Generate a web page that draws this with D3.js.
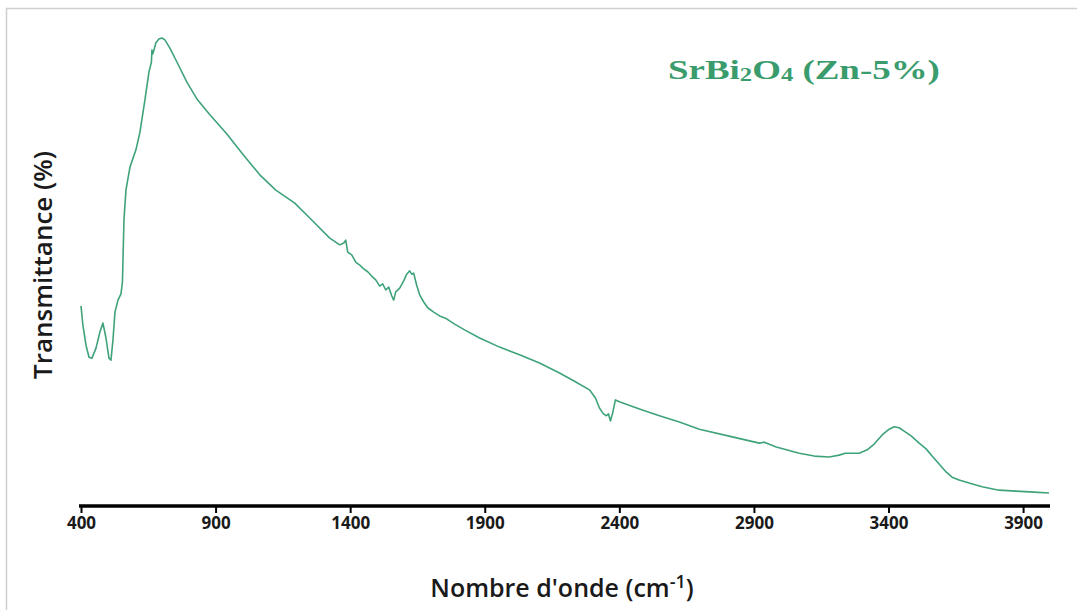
<!DOCTYPE html>
<html>
<head>
<meta charset="utf-8">
<script src="https://cdn.jsdelivr.net/npm/d3@7"></script>
<style>
  html, body { margin: 0; padding: 0; background: #fff; }
  svg { display: block; }
</style>
</head>
<body>
<svg id="chart" width="1077" height="610"></svg>
<script>
// ---- data ----
const wavenumbers = [400, 407, 418.6, 429.7, 440.8, 455.7, 470.5, 481.6, 492.8, 503.9, 511.3, 518.8, 526.2, 537.3, 548.5, 554, 559.6, 567, 581.9, 604.1, 619, 637.5, 652.4, 661.6, 663.5, 667.2, 678.3, 689.5, 700.6, 711.8, 730.3, 756.3, 793.4, 830.5, 878.8, 941.9, 1001.2, 1064.3, 1123.7, 1194.2, 1249.9, 1324.1, 1361.2, 1376.1, 1383.5, 1390.9, 1405.8, 1420.6, 1435.5, 1450.3, 1465.2, 1480, 1494.9, 1509.7, 1520.9, 1532, 1543.2, 1554.3, 1561.7, 1569.2, 1584, 1598.9, 1610, 1621.1, 1628.6, 1636, 1647.1, 1658.3, 1673.1, 1688, 1710.3, 1732.6, 1758.3, 1788, 1825.1, 1880.8, 1955, 2029.3, 2103.5, 2177.7, 2233.4, 2289, 2311.3, 2326.1, 2341, 2352.1, 2359.5, 2367, 2374.4, 2385.5, 2400.4, 2474.6, 2548.8, 2623, 2697.3, 2819.7, 2920, 2938.5, 2983.1, 3068.4, 3124.1, 3179.8, 3216.9, 3239.1, 3291.1, 3320.8, 3346.8, 3376.5, 3402.4, 3421, 3439.5, 3458.1, 3484.1, 3513.8, 3539.7, 3562, 3588, 3614, 3636.2, 3662.2, 3699.3, 3747.6, 3810.7, 3873.8, 3940.6, 3996.3];
const transmittance = [41.7, 37.7, 33.5, 31.0, 30.8, 32.9, 36.3, 38.1, 35.0, 30.8, 30.4, 34.6, 40.4, 42.9, 44.2, 46.7, 59.6, 65.8, 70.6, 74.2, 77.9, 84.6, 90.4, 92.5, 95.0, 94.2, 96.5, 97.3, 97.5, 97.1, 95.4, 92.5, 88.3, 84.8, 81.5, 77.5, 73.3, 69.0, 65.8, 63.1, 60.0, 55.8, 54.4, 54.8, 55.4, 52.9, 52.3, 50.8, 50.2, 49.4, 48.8, 47.9, 47.1, 45.8, 46.3, 45.0, 45.6, 43.8, 42.9, 44.6, 45.4, 46.9, 48.3, 49.0, 48.3, 48.5, 46.0, 44.0, 42.5, 41.3, 40.4, 39.6, 39.0, 37.9, 36.7, 35.0, 33.1, 31.5, 29.8, 27.7, 26.0, 24.2, 22.5, 20.4, 19.2, 18.8, 19.2, 17.7, 19.2, 22.1, 21.7, 20.2, 18.8, 17.5, 16.0, 14.4, 13.1, 13.3, 12.3, 11.0, 10.4, 10.2, 10.6, 11.0, 11.0, 11.7, 12.9, 14.8, 16.0, 16.5, 16.3, 15.6, 14.6, 13.1, 11.9, 10.4, 8.75, 7.1, 6.0, 5.4, 4.8, 4.0, 3.3, 3.1, 2.9, 2.7];
const xTicks = [400, 900, 1400, 1900, 2400, 2900, 3400, 3900];
const xDomain = [400, 4000];
const yDomain = [0, 100];
const xTitle = "Nombre d'onde (cm";
const xTitleSup = "-1";
const yTitle = "Transmittance (%)";

// ---- drawing ----
const svg = d3.select("#chart");
const W = 1077, H = 610;

svg.append("rect").attr("width", W).attr("height", H).attr("fill", "#fff");
// light frame (top and left visible)
svg.append("rect")
  .attr("x", 6.5).attr("y", 8.5).attr("width", W + 10).attr("height", H + 10)
  .attr("fill", "none").attr("stroke", "#cfcfcf").attr("stroke-width", 1.5);

const x = d3.scaleLinear().domain(xDomain).range([81, 1050]);
const y = d3.scaleLinear().domain(yDomain).range([506, 26]);

const data = wavenumbers.map((w, i) => ({ w, t: transmittance[i] }));

const line = d3.line().x(d => x(d.w)).y(d => y(d.t)).curve(d3.curveLinear);
svg.append("path")
  .datum(data)
  .attr("d", line)
  .attr("fill", "none")
  .attr("stroke", "#3fa37a")
  .attr("stroke-width", 1.6)
  .attr("stroke-linejoin", "round");

// x axis
const axisG = svg.append("g").attr("transform", `translate(0,${y(0)})`);
const axis = d3.axisBottom(x).tickValues(xTicks).tickSize(7).tickPadding(4).tickFormat(d3.format("d"));
axisG.call(axis);
axisG.select(".domain")
  .attr("d", `M${x(xDomain[0]) - 2},0H${x(xDomain[1])}`)
  .attr("stroke", "#000").attr("stroke-width", 3.5);
axisG.selectAll(".tick line").attr("stroke", "#000").attr("stroke-width", 2);
axisG.selectAll(".tick text")
  .attr("fill", "#1a1a1a")
  .attr("font-family", "'Open Sans', sans-serif")
  .attr("font-weight", 700)
  .attr("font-size", 17);

// x title
const xt = svg.append("text")
  .attr("x", 562).attr("y", 597)
  .attr("text-anchor", "middle")
  .attr("font-family", "'Open Sans', sans-serif")
  .attr("font-weight", 600)
  .attr("font-size", 25)
  .attr("fill", "#1a1a1a");
xt.append("tspan").text(xTitle);
xt.append("tspan").attr("dy", -9).attr("font-size", 18).text(xTitleSup);
xt.append("tspan").attr("dy", 9).text(")");

// y title
svg.append("text")
  .attr("transform", "translate(52,265) rotate(-90)")
  .attr("text-anchor", "middle")
  .attr("font-family", "'Open Sans', sans-serif")
  .attr("font-weight", 600)
  .attr("font-size", 26)
  .attr("fill", "#1a1a1a")
  .text(yTitle);

// chart title (horizontally stretched serif text)
const titleG = svg.append("g");
const tt = titleG.append("text")
  .attr("x", 0).attr("y", 0)
  .attr("font-family", "'Liberation Serif', 'Times New Roman', serif")
  .attr("font-weight", "bold")
  .attr("font-size", 27)
  .attr("fill", "#3a9c6c");
tt.append("tspan").text("SrBi");
tt.append("tspan").attr("font-size", 18).attr("dy", 2).text("2");
tt.append("tspan").attr("dy", -2).text("O");
tt.append("tspan").attr("font-size", 18).attr("dy", 2).text("4");
tt.append("tspan").attr("dy", -2).text(" (Zn-5%)");
const bb = tt.node().getBBox();
const sx = 272 / bb.width;
titleG.attr("transform", `translate(${668 - bb.x * sx},79) scale(${sx},1)`);
</script>
</body>
</html>
